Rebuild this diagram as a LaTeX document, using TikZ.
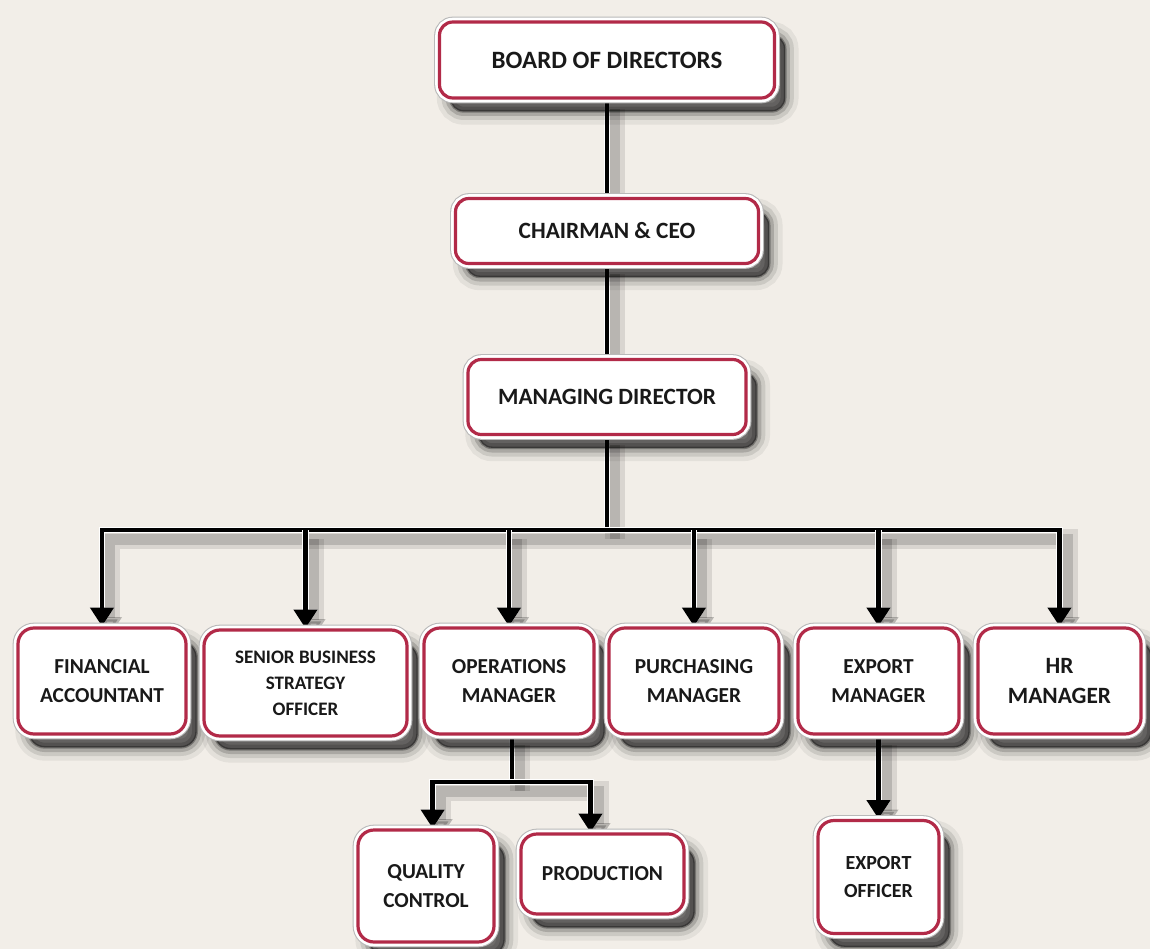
\documentclass[tikz,border=0pt]{standalone}
\usepackage{fontspec}
\setmainfont{Carlito}
\usetikzlibrary{arrows.meta,shadows,backgrounds}
\pgfdeclarelayer{paper}
\pgfsetlayers{paper,background,main}
\definecolor{bg}{RGB}{242,238,232}
\definecolor{bred}{RGB}{178,42,72}
\tikzset{
  x=0.75pt, y=-0.75pt,
  fuzzy/.style={
    general shadow={shadow xshift=8pt, shadow yshift=-10pt, fill=black, draw=black, line width=20pt, opacity=0.06},
    general shadow={shadow xshift=8pt, shadow yshift=-10pt, fill=black, draw=black, line width=13pt, opacity=0.1},
    general shadow={shadow xshift=8pt, shadow yshift=-10pt, fill=black, draw=black, line width=7pt, opacity=0.16},
    general shadow={shadow xshift=8pt, shadow yshift=-10pt, fill=black, draw=black, line width=2pt, opacity=0.3}},
  box/.style={fuzzy, rounded corners=10pt, draw=bred, line width=2.4pt, fill=white,
    inner sep=0pt, align=center, text=black!90,
    preaction={draw=gray!55, line width=8pt},
    preaction={draw=white, line width=6.4pt}},
  rowbox/.style={box, rounded corners=12pt},
  big/.style={font=\fontsize{17.5}{21}\selectfont\bfseries},
  mid/.style={font=\fontsize{16}{22}\selectfont\bfseries},
  small/.style={font=\fontsize{14.3}{19.5}\selectfont\bfseries},
  conn/.style={line width=3.6pt, black,
    preaction={draw=black, opacity=0.1, line width=15pt, transform canvas={shift={(6pt,-7pt)}}},
    preaction={draw=black, opacity=0.15, line width=8pt, transform canvas={shift={(6pt,-7pt)}}},
    preaction={draw=white, line width=5pt}},
  arr/.style={conn, -{Triangle[width=17pt,length=14pt]}},
}
\begin{document}
\begin{tikzpicture}
\begin{pgfonlayer}{paper}
\fill[bg] (0,0) rectangle (1150,949);
\end{pgfonlayer}
\useasboundingbox (0,0) rectangle (1150,949);
\clip (0,0) rectangle (1150,949);

\node[box, font=\fontsize{18.7}{22}\selectfont\bfseries, minimum width=251.25pt, minimum height=57pt] (bod) at (607,60) {BOARD OF DIRECTORS};
\node[box, big, minimum width=227.25pt, minimum height=48.75pt] (ceo) at (607,231) {CHAIRMAN \& CEO};
\node[box, big, minimum width=208.5pt, minimum height=56.25pt] (md) at (607,397) {MANAGING DIRECTOR};

\node[rowbox, mid, minimum width=126pt, minimum height=79.5pt] (fa) at (102,681) {FINANCIAL\\ACCOUNTANT};
\node[rowbox, small, minimum width=152.25pt, minimum height=79.5pt] (so) at (305.5,683) {SENIOR BUSINESS\\STRATEGY\\OFFICER};
\node[rowbox, mid, minimum width=127.5pt, minimum height=79.5pt] (ops) at (509,681) {OPERATIONS\\MANAGER};
\node[rowbox, mid, minimum width=127.5pt, minimum height=79.5pt] (pu) at (694,681) {PURCHASING\\MANAGER};
\node[rowbox, mid, minimum width=120.75pt, minimum height=79.5pt] (ex) at (878.5,681) {EXPORT\\MANAGER};
\node[rowbox, font=\fontsize{17.5}{22}\selectfont\bfseries, minimum width=122.25pt, minimum height=79.5pt] (hr) at (1059.5,681) {HR\\MANAGER};

\node[rowbox, mid, minimum width=102pt, minimum height=84pt] (qc) at (426,886) {QUALITY\\CONTROL};
\node[rowbox, mid, minimum width=122.25pt, minimum height=60pt] (pr) at (602.5,874) {PRODUCTION};
\node[rowbox, font=\fontsize{15}{21}\selectfont\bfseries, minimum width=90.75pt, minimum height=84.75pt] (eo) at (878.5,877) {EXPORT\\OFFICER};

\begin{scope}[on background layer]
\coordinate (bus) at (md.south |- 0,530);
\coordinate (bus2) at (512,782);
\draw[conn] (bod.south) -- (ceo.north);
\draw[conn] (ceo.south) -- (md.north);
\draw[conn] (md.south) -- (bus);
\draw[arr] (bus) -| (fa.north);
\draw[arr] (bus) -| (hr.north);
\draw[arr] (so.north |- bus) -- (so.north);
\draw[arr] (ops.north |- bus) -- (ops.north);
\draw[arr] (pu.north |- bus) -- (pu.north);
\draw[arr] (ex.north |- bus) -- (ex.north);
\draw[conn] (ops.south -| bus2) -- (bus2);
\draw[arr] (bus2) -| ([xshift=5pt]qc.north);
\draw[arr] (bus2) -| ([xshift=-9pt]pr.north);
\draw[arr] (ex.south) -- (eo.north);
\end{scope}
\end{tikzpicture}
\end{document}
